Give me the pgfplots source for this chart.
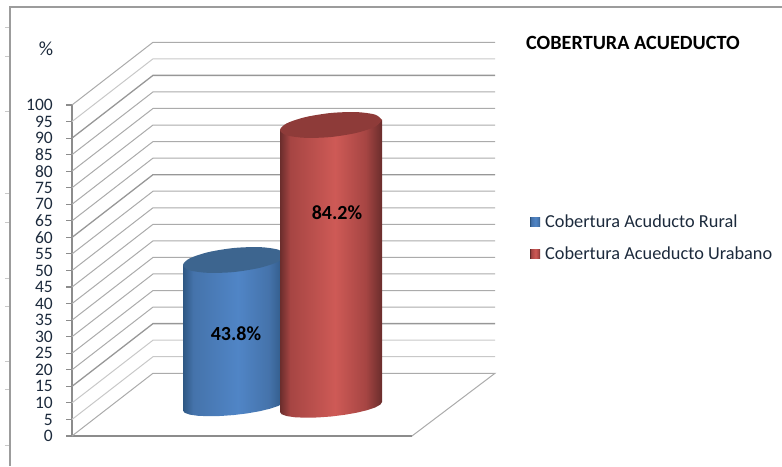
\documentclass[border=0pt]{standalone}
\usepackage{fontspec}
\setmainfont{Carlito}
\usepackage{pgfplots}
\pgfplotsset{compat=1.18}
\definecolor{gridg}{HTML}{ABABAB}
\definecolor{griddark}{HTML}{979797}
\definecolor{gridlight}{HTML}{C8C8C8}
\definecolor{framec}{HTML}{9C9C9C}
\definecolor{axisc}{HTML}{8C8C8C}
\definecolor{ticktext}{HTML}{1C2A3C}
\definecolor{legblue}{HTML}{4F81BD}
\definecolor{legred}{HTML}{C0504D}
\definecolor{topblue}{HTML}{3D658F}
\definecolor{topred}{HTML}{8E3B39}
\definecolor{ra}{HTML}{6A2D2C}\definecolor{rb}{HTML}{A64543}\definecolor{rc}{HTML}{CE5A56}
\definecolor{ba}{HTML}{2E5783}\definecolor{bb}{HTML}{4573AB}\definecolor{bc}{HTML}{5085C6}
\pgfdeclarehorizontalshading{redcyl}{100bp}{color(0bp)=(ra);color(25bp)=(ra);color(30bp)=(rb);color(52bp)=(rc);color(67bp)=(rb);color(75bp)=(ra);color(100bp)=(ra)}
\pgfdeclarehorizontalshading{bluecyl}{100bp}{color(0bp)=(ba);color(25bp)=(ba);color(30bp)=(bb);color(52bp)=(bc);color(67bp)=(bb);color(75bp)=(ba);color(100bp)=(ba)}
\begin{document}
\begin{tikzpicture}
\path[use as bounding box] (-72pt,-30pt) rectangle (710pt,436pt);
\begin{axis}[
  at={(0,0)},anchor=south west,
  x=1pt,y=3.31pt,
  xmin=72,xmax=412,ymin=0,ymax=100,
  clip=false,
  axis x line=bottom,axis y line=left,
  axis line style={-,draw=axisc,line width=1.3pt},
  xtick=\empty,
  ytick={0,5,10,15,20,25,30,35,40,45,50,55,60,65,70,75,80,85,90,95,100},
  tick align=outside,
  major tick length=6pt,
  y tick style={draw=axisc,line width=1.1pt},
  /pgf/number format/assume math mode=true,
  yticklabel style={font=\fontsize{17.5}{16}\selectfont,text=ticktext,xshift=-13pt,inner sep=0pt},
  legend style={at={(1.347,0.675)},anchor=north west,draw=none,fill=none,
    font=\fontsize{18.3}{18}\selectfont,text=ticktext,
    /tikz/column 1/.style={column sep=3pt},
    legend cell align=left,row sep=14pt,inner sep=0pt},
  grid line/.style={forget plot,draw=gridg,line width=1pt,no markers},
]
% frame and faint ruler marks
\addplot[forget plot,draw=framec,line width=1.4pt] coordinates {(782,129.6)(10,129.6)(10,-9.06)};
\addplot[forget plot,draw=gridlight,line width=0.6pt] coordinates {(5,123.6)(9,123.6)};
\addplot[forget plot,draw=gridlight,line width=0.6pt] coordinates {(5,114.8)(9,114.8)};
\addplot[forget plot,draw=gridlight,line width=0.6pt] coordinates {(5,98.2)(9,98.2)};
\addplot[forget plot,draw=gridlight,line width=0.6pt] coordinates {(5,73.4)(9,73.4)};
\addplot[forget plot,draw=gridlight,line width=0.6pt] coordinates {(5,64.7)(9,64.7)};
\addplot[forget plot,draw=gridlight,line width=0.6pt] coordinates {(5,47.7)(9,47.7)};
\addplot[forget plot,draw=gridlight,line width=0.6pt] coordinates {(5,39.3)(9,39.3)};
\addplot[forget plot,draw=gridlight,line width=0.6pt] coordinates {(5,22.7)(9,22.7)};
\addplot[forget plot,draw=gridlight,line width=0.6pt] coordinates {(5,14.2)(9,14.2)};
\addplot[forget plot,draw=gridlight,line width=0.6pt] coordinates {(5,-2.7)(9,-2.7)};
% walls
\addplot[grid line] coordinates {(72,0)(153,18.95)(495,18.95)(412,0)};
\addplot[grid line,draw=gridlight] coordinates {(72,5)(153,23.95)(495,23.95)};
\addplot[grid line,draw=gridlight] coordinates {(72,10)(153,28.95)(495,28.95)};
\addplot[grid line,draw=griddark,line width=1.3pt] coordinates {(72,15)(153,33.95)(495,33.95)};
\addplot[grid line] coordinates {(72,20)(153,38.95)(495,38.95)};
\addplot[grid line] coordinates {(72,25)(153,43.95)(495,43.95)};
\addplot[grid line] coordinates {(72,30)(153,48.95)(495,48.95)};
\addplot[grid line] coordinates {(72,35)(153,53.95)(495,53.95)};
\addplot[grid line] coordinates {(72,40)(153,58.95)(495,58.95)};
\addplot[grid line] coordinates {(72,45)(153,63.95)(495,63.95)};
\addplot[grid line] coordinates {(72,50)(153,68.95)(495,68.95)};
\addplot[grid line] coordinates {(72,55)(153,73.95)(495,73.95)};
\addplot[grid line,draw=griddark,line width=1.3pt] coordinates {(72,60)(153,78.95)(495,78.95)};
\addplot[grid line] coordinates {(72,65)(153,83.95)(495,83.95)};
\addplot[grid line] coordinates {(72,70)(153,88.95)(495,88.95)};
\addplot[grid line] coordinates {(72,75)(153,93.95)(495,93.95)};
\addplot[grid line] coordinates {(72,80)(153,98.95)(495,98.95)};
\addplot[grid line] coordinates {(72,85)(153,103.95)(495,103.95)};
\addplot[grid line,draw=griddark,line width=1.3pt] coordinates {(72,90)(153,108.95)(495,108.95)};
\addplot[grid line,draw=gridlight] coordinates {(72,95)(153,113.95)(495,113.95)};
\addplot[grid line] coordinates {(72,100)(153,118.95)(495,118.95)};
% blue cylinder, 43.8
\addplot[draw=none,shading=bluecyl,
  legend image code/.code={\fill[legblue] (0pt,-4.7pt) rectangle (10pt,4.7pt);}]
  coordinates {(183,51.66)(183,7.70)(184.7,7.01)(189.8,6.46)(197.9,6.11)(208.5,5.97)(220.8,6.05)(234,6.34)(247.2,6.83)(259.5,7.48)(270.1,8.25)(278.2,9.08)(283.3,9.93)(285,10.72)(285,54.68)} --cycle;
\addlegendentry{Cobertura Acuducto Rural}
\addplot[forget plot,draw=none,fill=topblue,smooth]
  coordinates {(285,54.68)(278.2,56.30)(259.5,57.07)(234,56.80)(208.5,55.56)(189.8,53.68)(183,51.66)(189.8,50.04)(208.5,49.28)(234,49.54)(259.5,50.79)(278.2,52.66)(285,54.68)} --cycle;
% red cylinder, 84.2
\addplot[draw=none,shading=redcyl,
  legend image code/.code={\fill[legred] (0pt,-4.7pt) rectangle (10pt,4.7pt);}]
  coordinates {(280,92.45)(280,7.25)(281.7,6.56)(286.8,6.01)(294.9,5.66)(305.5,5.52)(317.8,5.60)(331,5.89)(344.2,6.38)(356.5,7.03)(367.1,7.80)(375.2,8.63)(380.3,9.48)(382,10.27)(382,95.47)} --cycle;
\addlegendentry{Cobertura Acueducto Urabano}
\addplot[forget plot,draw=none,fill=topred,smooth]
  coordinates {(382,95.47)(375.2,97.09)(356.5,97.86)(331,97.59)(305.5,96.35)(286.8,94.47)(280,92.45)(286.8,90.83)(305.5,90.07)(331,90.33)(356.5,91.58)(375.2,93.45)(382,95.47)} --cycle;
% texts
\node[font=\bfseries\fontsize{20}{20}\selectfont,text=black] at (axis cs:236,30.8) {43.8\%};
\node[font=\bfseries\fontsize{20}{20}\selectfont,text=black] at (axis cs:337,67.4) {84.2\%};
\node[font=\fontsize{20}{20}\selectfont,text=ticktext] at (axis cs:46,116.9) {\%};
\node[anchor=west,inner sep=0pt,font=\bfseries\fontsize{20.2}{20}\selectfont,text=black] at (axis cs:526,118.7) {COBERTURA ACUEDUCTO};
\end{axis}
\end{tikzpicture}
\end{document}
